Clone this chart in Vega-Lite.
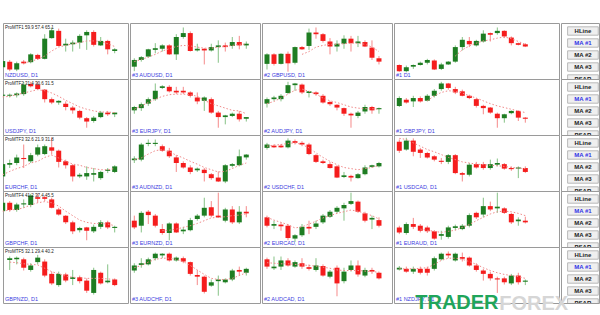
{
"$schema":"https://vega.github.io/schema/vega-lite/v6.json",
"padding":{"left":0,"top":22,"right":0,"bottom":0},
"background":"white",
"spacing":0,
"config":{"view":{"stroke":"#9a9a9a","strokeWidth":1},"font":"Liberation Sans","facet":{"spacing":0},"concat":{"spacing":0},"header":{"labelPadding":0,"titlePadding":0}},
"title":{"text":"TRADER","orient":"bottom","anchor":"start","dx":415,"offset":-21,"fontSize":20,"fontWeight":"bold","color":"#1fa55a","font":"Liberation Sans"},
"datasets":{
"d":[
{"c":1,"r":1,"t":"NZDUSD, D1","u":"ProMTF1 59.9 57.4 65.1"},
{"c":1,"r":2,"t":"USDJPY, D1","u":"ProMTF2 31.4 30.6 31.5"},
{"c":1,"r":3,"t":"EURCHF, D1","u":"ProMTF3 32.6 21.9 31.8"},
{"c":1,"r":4,"t":"GBPCHF, D1","u":"ProMTF4 41.2 37.4 45.5"},
{"c":1,"r":5,"t":"GBPNZD, D1","u":"ProMTF5 32.1 29.4 40.2"},
{"c":2,"r":1,"t":"#3 AUDUSD, D1"},{"c":2,"r":2,"t":"#3 EURJPY, D1"},{"c":2,"r":3,"t":"#3 AUDNZD, D1"},{"c":2,"r":4,"t":"#3 EURNZD, D1"},{"c":2,"r":5,"t":"#3 AUDCHF, D1"},
{"c":3,"r":1,"t":"#2 GBPUSD, D1"},{"c":3,"r":2,"t":"#2 AUDJPY, D1"},{"c":3,"r":3,"t":"#2 USDCHF, D1"},{"c":3,"r":4,"t":"#2 EURCAD, D1"},{"c":3,"r":5,"t":"#2 AUDCAD, D1"},
{"c":4,"r":1,"t":"#1 D1"},{"c":4,"r":2,"t":"#1 GBPJPY, D1"},{"c":4,"r":3,"t":"#1 USDCAD, D1"},{"c":4,"r":4,"t":"#1 EURAUD, D1"},{"c":4,"r":5,"t":"#1 NZDJPY, D1"},

{"c":1,"r":1,"i":0,"o":21,"h":34,"l":18,"z":32},
{"c":1,"r":1,"i":1,"o":31,"h":34,"l":14,"z":17},
{"c":1,"r":1,"i":2,"o":17,"h":31,"l":14,"z":28},
{"c":1,"r":1,"i":3,"o":31,"h":34,"l":26,"z":28,"m":28},
{"c":1,"r":1,"i":4,"o":30,"h":46,"l":28,"z":44,"m":32},
{"c":1,"r":1,"i":5,"o":43,"h":45,"l":34,"z":36,"m":35},
{"c":1,"r":1,"i":6,"o":36,"h":80,"l":35,"z":72,"m":41},
{"c":1,"r":1,"i":7,"o":73,"h":92,"l":72,"z":87,"m":50},
{"c":1,"r":1,"i":8,"o":86,"h":90,"l":58,"z":59,"m":57},
{"c":1,"r":1,"i":9,"o":60,"h":72,"l":49,"z":63,"m":60},
{"c":1,"r":1,"i":10,"o":62,"h":69,"l":49,"z":65,"m":63},
{"c":1,"r":1,"i":11,"o":65,"h":80,"l":54,"z":77,"m":65},
{"c":1,"r":1,"i":12,"o":78,"h":87,"l":52,"z":84,"m":68},
{"c":1,"r":1,"i":13,"o":84,"h":87,"l":58,"z":61,"m":68},
{"c":1,"r":1,"i":14,"o":60,"h":75,"l":59,"z":68,"m":67},
{"c":1,"r":1,"i":15,"o":68,"h":70,"l":44,"z":53,"m":63},
{"c":1,"r":1,"i":16,"o":50,"h":55,"l":46,"z":53,"m":58},

{"c":2,"r":1,"i":0,"o":22,"h":37,"l":14,"z":34,"m":31},
{"c":2,"r":1,"i":1,"o":34,"h":41,"l":31,"z":39,"m":35},
{"c":2,"r":1,"i":2,"o":40,"h":54,"l":38,"z":53,"m":39},
{"c":2,"r":1,"i":3,"o":52,"h":64,"l":46,"z":55,"m":44},
{"c":2,"r":1,"i":4,"o":54,"h":62,"l":49,"z":60,"m":50},
{"c":2,"r":1,"i":5,"o":60,"h":62,"l":43,"z":44,"m":54},
{"c":2,"r":1,"i":6,"o":44,"h":80,"l":34,"z":75,"m":58},
{"c":2,"r":1,"i":7,"o":75,"h":92,"l":72,"z":82,"m":60},
{"c":2,"r":1,"i":8,"o":82,"h":85,"l":49,"z":50,"m":59},
{"c":2,"r":1,"i":9,"o":51,"h":63,"l":49,"z":54,"m":57},
{"c":2,"r":1,"i":10,"o":54,"h":55,"l":26,"z":51,"m":55},
{"c":2,"r":1,"i":11,"o":51,"h":63,"l":49,"z":57,"m":55},
{"c":2,"r":1,"i":12,"o":57,"h":69,"l":29,"z":60,"m":57},
{"c":2,"r":1,"i":13,"o":60,"h":65,"l":49,"z":57,"m":58},
{"c":2,"r":1,"i":14,"o":59,"h":75,"l":54,"z":66,"m":60},
{"c":2,"r":1,"i":15,"o":66,"h":77,"l":53,"z":60,"m":62},
{"c":2,"r":1,"i":16,"o":60,"h":67,"l":54,"z":63,"m":62},

{"c":3,"r":1,"i":0,"o":27,"h":46,"l":17,"z":44},
{"c":3,"r":1,"i":1,"o":44,"h":46,"l":24,"z":27},
{"c":3,"r":1,"i":2,"o":27,"h":46,"l":26,"z":45},
{"c":3,"r":1,"i":3,"o":45,"h":49,"l":13,"z":28},
{"c":3,"r":1,"i":4,"o":29,"h":58,"l":26,"z":57},
{"c":3,"r":1,"i":5,"o":57,"h":59,"l":52,"z":53,"m":44},
{"c":3,"r":1,"i":6,"o":59,"h":90,"l":52,"z":83,"m":49},
{"c":3,"r":1,"i":7,"o":83,"h":92,"l":72,"z":80,"m":57},
{"c":3,"r":1,"i":8,"o":80,"h":82,"l":65,"z":68,"m":60},
{"c":3,"r":1,"i":9,"o":67,"h":73,"l":44,"z":58,"m":62},
{"c":3,"r":1,"i":10,"o":58,"h":69,"l":49,"z":63,"m":62},
{"c":3,"r":1,"i":11,"o":63,"h":78,"l":54,"z":72,"m":63},
{"c":3,"r":1,"i":12,"o":72,"h":77,"l":49,"z":64,"m":64},
{"c":3,"r":1,"i":13,"o":64,"h":77,"l":57,"z":67,"m":64},
{"c":3,"r":1,"i":14,"o":66,"h":69,"l":57,"z":58,"m":62},
{"c":3,"r":1,"i":15,"o":56,"h":69,"l":34,"z":38,"m":57},
{"c":3,"r":1,"i":16,"o":37,"h":41,"l":26,"z":31,"m":49},

{"c":4,"r":1,"i":0,"o":25,"h":26,"l":13,"z":14},
{"c":4,"r":1,"i":1,"o":14,"h":24,"l":12,"z":21},
{"c":4,"r":1,"i":2,"o":22,"h":26,"l":18,"z":25},
{"c":4,"r":1,"i":3,"o":25,"h":31,"l":24,"z":29},
{"c":4,"r":1,"i":4,"o":29,"h":36,"l":26,"z":34},
{"c":4,"r":1,"i":5,"o":33,"h":35,"l":16,"z":17},
{"c":4,"r":1,"i":6,"o":18,"h":29,"l":16,"z":26},
{"c":4,"r":1,"i":7,"o":26,"h":32,"l":25,"z":31},
{"c":4,"r":1,"i":8,"o":31,"h":60,"l":29,"z":57,"m":41},
{"c":4,"r":1,"i":9,"o":57,"h":75,"l":51,"z":70,"m":52},
{"c":4,"r":1,"i":10,"o":68,"h":75,"l":57,"z":62,"m":59},
{"c":4,"r":1,"i":11,"o":60,"h":70,"l":58,"z":68,"m":64},
{"c":4,"r":1,"i":12,"o":67,"h":87,"l":65,"z":81,"m":68},
{"c":4,"r":1,"i":13,"o":82,"h":83,"l":67,"z":79,"m":70},
{"c":4,"r":1,"i":14,"o":82,"h":92,"l":79,"z":86,"m":73},
{"c":4,"r":1,"i":15,"o":86,"h":87,"l":73,"z":76,"m":75},
{"c":4,"r":1,"i":16,"o":74,"h":76,"l":60,"z":64,"m":72},
{"c":4,"r":1,"i":17,"o":64,"h":65,"l":60,"z":61,"m":67},
{"c":4,"r":1,"i":18,"o":62,"h":64,"l":57,"z":58,"m":62},

{"c":1,"r":2,"i":0,"o":70,"h":74,"l":67,"z":72,"m":68},
{"c":1,"r":2,"i":1,"o":70,"h":74,"l":67,"z":72,"m":69},
{"c":1,"r":2,"i":2,"o":71,"h":76,"l":67,"z":74,"m":72},
{"c":1,"r":2,"i":3,"o":73,"h":95,"l":70,"z":90,"m":75},
{"c":1,"r":2,"i":4,"o":91,"h":95,"l":85,"z":87,"m":78},
{"c":1,"r":2,"i":5,"o":90,"h":95,"l":81,"z":82,"m":81},
{"c":1,"r":2,"i":6,"o":81,"h":82,"l":58,"z":64,"m":79},
{"c":1,"r":2,"i":7,"o":64,"h":67,"l":55,"z":58,"m":75},
{"c":1,"r":2,"i":8,"o":58,"h":62,"l":54,"z":61,"m":69},
{"c":1,"r":2,"i":9,"o":56,"h":60,"l":44,"z":50,"m":62},
{"c":1,"r":2,"i":10,"o":49,"h":52,"l":38,"z":44,"m":56},
{"c":1,"r":2,"i":11,"o":43,"h":45,"l":28,"z":31,"m":50},
{"c":1,"r":2,"i":12,"o":30,"h":32,"l":13,"z":24,"m":46},
{"c":1,"r":2,"i":13,"o":25,"h":34,"l":22,"z":31,"m":43},
{"c":1,"r":2,"i":14,"o":32,"h":43,"l":30,"z":40,"m":41},
{"c":1,"r":2,"i":15,"o":40,"h":43,"l":34,"z":37,"m":41},
{"c":1,"r":2,"i":16,"o":37,"h":40,"l":32,"z":40,"m":40},

{"c":2,"r":2,"i":0,"o":44,"h":52,"l":38,"z":50,"m":46},
{"c":2,"r":2,"i":1,"o":48,"h":58,"l":43,"z":55,"m":52},
{"c":2,"r":2,"i":2,"o":56,"h":67,"l":52,"z":64,"m":58},
{"c":2,"r":2,"i":3,"o":64,"h":92,"l":61,"z":79,"m":64},
{"c":2,"r":2,"i":4,"o":84,"h":89,"l":82,"z":87,"m":69},
{"c":2,"r":2,"i":5,"o":86,"h":89,"l":76,"z":78,"m":72},
{"c":2,"r":2,"i":6,"o":79,"h":86,"l":73,"z":76,"m":73},
{"c":2,"r":2,"i":7,"o":79,"h":86,"l":73,"z":76,"m":73},
{"c":2,"r":2,"i":8,"o":76,"h":78,"l":67,"z":70,"m":72},
{"c":2,"r":2,"i":9,"o":67,"h":76,"l":55,"z":60,"m":69},
{"c":2,"r":2,"i":10,"o":61,"h":69,"l":43,"z":67,"m":62},
{"c":2,"r":2,"i":11,"o":64,"h":67,"l":38,"z":40,"m":56},
{"c":2,"r":2,"i":12,"o":40,"h":43,"l":13,"z":32,"m":52},
{"c":2,"r":2,"i":13,"o":32,"h":36,"l":19,"z":35,"m":48},
{"c":2,"r":2,"i":14,"o":34,"h":40,"l":32,"z":38,"m":44},
{"c":2,"r":2,"i":15,"o":38,"h":43,"l":24,"z":28,"m":43},
{"c":2,"r":2,"i":16,"o":29,"h":32,"l":24,"z":32,"m":38},

{"c":3,"r":2,"i":0,"o":56,"h":67,"l":49,"z":64,"m":56},
{"c":3,"r":2,"i":1,"o":64,"h":70,"l":61,"z":67,"m":60},
{"c":3,"r":2,"i":2,"o":64,"h":73,"l":60,"z":70,"m":66},
{"c":3,"r":2,"i":3,"o":75,"h":95,"l":73,"z":89,"m":73},
{"c":3,"r":2,"i":4,"o":89,"h":93,"l":79,"z":92,"m":80},
{"c":3,"r":2,"i":5,"o":90,"h":92,"l":73,"z":76,"m":82},
{"c":3,"r":2,"i":6,"o":75,"h":79,"l":67,"z":78,"m":78},
{"c":3,"r":2,"i":7,"o":76,"h":78,"l":70,"z":73,"m":73},
{"c":3,"r":2,"i":8,"o":70,"h":73,"l":56,"z":58,"m":66},
{"c":3,"r":2,"i":9,"o":59,"h":61,"l":52,"z":55,"m":61},
{"c":3,"r":2,"i":10,"o":54,"h":55,"l":44,"z":49,"m":58},
{"c":3,"r":2,"i":11,"o":48,"h":49,"l":34,"z":38,"m":54},
{"c":3,"r":2,"i":12,"o":38,"h":40,"l":13,"z":35,"m":50},
{"c":3,"r":2,"i":13,"o":34,"h":43,"l":30,"z":40,"m":48},
{"c":3,"r":2,"i":14,"o":42,"h":54,"l":38,"z":50,"m":47},
{"c":3,"r":2,"i":15,"o":50,"h":52,"l":38,"z":44,"m":47},
{"c":3,"r":2,"i":16,"o":46,"h":49,"l":38,"z":48,"m":46},

{"c":4,"r":2,"i":0,"o":52,"h":69,"l":50,"z":66},
{"c":4,"r":2,"i":1,"o":63,"h":66,"l":56,"z":58},
{"c":4,"r":2,"i":2,"o":60,"h":70,"l":50,"z":66},
{"c":4,"r":2,"i":3,"o":66,"h":69,"l":58,"z":60},
{"c":4,"r":2,"i":4,"o":61,"h":73,"l":60,"z":70,"m":61},
{"c":4,"r":2,"i":5,"o":70,"h":82,"l":67,"z":79,"m":70},
{"c":4,"r":2,"i":6,"o":82,"h":95,"l":79,"z":92,"m":76},
{"c":4,"r":2,"i":7,"o":92,"h":93,"l":81,"z":84,"m":79},
{"c":4,"r":2,"i":8,"o":82,"h":86,"l":73,"z":76,"m":78},
{"c":4,"r":2,"i":9,"o":78,"h":81,"l":69,"z":70,"m":75},
{"c":4,"r":2,"i":10,"o":70,"h":72,"l":64,"z":66,"m":70},
{"c":4,"r":2,"i":11,"o":64,"h":66,"l":49,"z":52,"m":66},
{"c":4,"r":2,"i":12,"o":52,"h":54,"l":37,"z":48,"m":61},
{"c":4,"r":2,"i":13,"o":49,"h":50,"l":38,"z":40,"m":56},
{"c":4,"r":2,"i":14,"o":38,"h":40,"l":13,"z":30,"m":52},
{"c":4,"r":2,"i":15,"o":30,"h":38,"l":22,"z":37,"m":49},
{"c":4,"r":2,"i":16,"o":39,"h":44,"l":37,"z":43,"m":46},
{"c":4,"r":2,"i":17,"o":43,"h":44,"l":25,"z":31,"m":43},
{"c":4,"r":2,"i":18,"o":31,"h":32,"l":22,"z":29,"m":40},

{"c":1,"r":3,"i":0,"o":26,"h":53,"l":23,"z":48,"m":29},
{"c":1,"r":3,"i":1,"o":47,"h":56,"l":41,"z":50,"m":35},
{"c":1,"r":3,"i":2,"o":50,"h":65,"l":46,"z":60,"m":40},
{"c":1,"r":3,"i":3,"o":59,"h":83,"l":41,"z":57,"m":44},
{"c":1,"r":3,"i":4,"o":53,"h":68,"l":50,"z":64,"m":50},
{"c":1,"r":3,"i":5,"o":65,"h":83,"l":62,"z":78,"m":53},
{"c":1,"r":3,"i":6,"o":66,"h":83,"l":64,"z":80,"m":60},
{"c":1,"r":3,"i":7,"o":78,"h":95,"l":65,"z":72,"m":64},
{"c":1,"r":3,"i":8,"o":72,"h":74,"l":42,"z":52,"m":59},
{"c":1,"r":3,"i":9,"o":53,"h":56,"l":40,"z":46,"m":53},
{"c":1,"r":3,"i":10,"o":46,"h":48,"l":17,"z":26,"m":48},
{"c":1,"r":3,"i":11,"o":26,"h":32,"l":23,"z":29,"m":46},
{"c":1,"r":3,"i":12,"o":26,"h":44,"l":20,"z":32,"m":42},
{"c":1,"r":3,"i":13,"o":29,"h":41,"l":17,"z":32,"m":40},
{"c":1,"r":3,"i":14,"o":23,"h":36,"l":20,"z":34,"m":38},
{"c":1,"r":3,"i":15,"o":36,"h":41,"l":32,"z":38,"m":38},
{"c":1,"r":3,"i":16,"o":34,"h":46,"l":32,"z":44,"m":40},

{"c":2,"r":3,"i":0,"o":55,"h":62,"l":50,"z":58,"m":56},
{"c":2,"r":3,"i":1,"o":56,"h":86,"l":53,"z":83,"m":59},
{"c":2,"r":3,"i":2,"o":84,"h":92,"l":80,"z":86,"m":66},
{"c":2,"r":3,"i":3,"o":84,"h":92,"l":80,"z":86,"m":72},
{"c":2,"r":3,"i":4,"o":80,"h":83,"l":70,"z":72,"m":74},
{"c":2,"r":3,"i":5,"o":72,"h":77,"l":59,"z":62,"m":70},
{"c":2,"r":3,"i":6,"o":60,"h":64,"l":34,"z":50,"m":64},
{"c":2,"r":3,"i":7,"o":50,"h":53,"l":40,"z":42,"m":59},
{"c":2,"r":3,"i":8,"o":42,"h":46,"l":30,"z":34,"m":53},
{"c":2,"r":3,"i":9,"o":37,"h":42,"l":34,"z":40,"m":48},
{"c":2,"r":3,"i":10,"o":38,"h":41,"l":17,"z":32,"m":42},
{"c":2,"r":3,"i":11,"o":30,"h":32,"l":20,"z":23,"m":38},
{"c":2,"r":3,"i":12,"o":24,"h":35,"l":16,"z":17,"m":34},
{"c":2,"r":3,"i":13,"o":17,"h":48,"l":14,"z":46,"m":35},
{"c":2,"r":3,"i":14,"o":45,"h":50,"l":42,"z":48,"m":40},
{"c":2,"r":3,"i":15,"o":46,"h":74,"l":44,"z":62,"m":46},
{"c":2,"r":3,"i":16,"o":60,"h":66,"l":56,"z":65,"m":50},

{"c":3,"r":3,"i":0,"o":77,"h":86,"l":74,"z":83,"m":80},
{"c":3,"r":3,"i":1,"o":81,"h":83,"l":77,"z":78,"m":82},
{"c":3,"r":3,"i":2,"o":81,"h":84,"l":77,"z":78,"m":83},
{"c":3,"r":3,"i":3,"o":78,"h":94,"l":76,"z":90,"m":85},
{"c":3,"r":3,"i":4,"o":89,"h":92,"l":83,"z":86,"m":86},
{"c":3,"r":3,"i":5,"o":86,"h":89,"l":80,"z":83,"m":83},
{"c":3,"r":3,"i":6,"o":83,"h":86,"l":64,"z":66,"m":77},
{"c":3,"r":3,"i":7,"o":64,"h":66,"l":50,"z":52,"m":68},
{"c":3,"r":3,"i":8,"o":53,"h":56,"l":48,"z":50,"m":60},
{"c":3,"r":3,"i":9,"o":48,"h":52,"l":40,"z":41,"m":53},
{"c":3,"r":3,"i":10,"o":44,"h":46,"l":23,"z":24,"m":47},
{"c":3,"r":3,"i":11,"o":25,"h":34,"l":23,"z":28,"m":42},
{"c":3,"r":3,"i":12,"o":27,"h":29,"l":17,"z":24,"m":40},
{"c":3,"r":3,"i":13,"o":23,"h":32,"l":22,"z":30,"m":38},
{"c":3,"r":3,"i":14,"o":30,"h":46,"l":28,"z":42,"m":40},
{"c":3,"r":3,"i":15,"o":43,"h":47,"l":41,"z":46,"m":42},
{"c":3,"r":3,"i":16,"o":44,"h":52,"l":42,"z":50,"m":46},

{"c":4,"r":3,"i":0,"o":88,"h":92,"l":68,"z":72,"m":94},
{"c":4,"r":3,"i":1,"o":74,"h":95,"l":72,"z":90,"m":92},
{"c":4,"r":3,"i":2,"o":90,"h":94,"l":62,"z":70,"m":86},
{"c":4,"r":3,"i":3,"o":74,"h":77,"l":59,"z":68,"m":80},
{"c":4,"r":3,"i":4,"o":68,"h":70,"l":58,"z":60,"m":74},
{"c":4,"r":3,"i":5,"o":62,"h":64,"l":53,"z":56,"m":70},
{"c":4,"r":3,"i":6,"o":54,"h":59,"l":48,"z":52,"m":65},
{"c":4,"r":3,"i":7,"o":52,"h":66,"l":48,"z":64,"m":60},
{"c":4,"r":3,"i":8,"o":64,"h":66,"l":30,"z":32,"m":56},
{"c":4,"r":3,"i":9,"o":32,"h":34,"l":17,"z":29,"m":52},
{"c":4,"r":3,"i":10,"o":29,"h":50,"l":26,"z":47,"m":50},
{"c":4,"r":3,"i":11,"o":48,"h":52,"l":40,"z":42,"m":48},
{"c":4,"r":3,"i":12,"o":48,"h":52,"l":38,"z":41,"m":47},
{"c":4,"r":3,"i":13,"o":41,"h":56,"l":38,"z":48,"m":46},
{"c":4,"r":3,"i":14,"o":47,"h":58,"l":44,"z":50,"m":45},
{"c":4,"r":3,"i":15,"o":48,"h":50,"l":38,"z":40,"m":44},
{"c":4,"r":3,"i":16,"o":41,"h":44,"l":36,"z":39,"m":42},
{"c":4,"r":3,"i":17,"o":40,"h":44,"l":23,"z":42,"m":41},
{"c":4,"r":3,"i":18,"o":41,"h":44,"l":32,"z":34,"m":40},

{"c":1,"r":4,"i":0,"o":64,"h":82,"l":61,"z":79,"m":64},
{"c":1,"r":4,"i":1,"o":79,"h":82,"l":63,"z":66,"m":66},
{"c":1,"r":4,"i":2,"o":66,"h":79,"l":63,"z":76,"m":67},
{"c":1,"r":4,"i":3,"o":76,"h":85,"l":70,"z":78,"m":70},
{"c":1,"r":4,"i":4,"o":75,"h":95,"l":71,"z":92,"m":75},
{"c":1,"r":4,"i":5,"o":89,"h":95,"l":79,"z":86,"m":79},
{"c":1,"r":4,"i":6,"o":89,"h":92,"l":82,"z":86,"m":81},
{"c":1,"r":4,"i":7,"o":85,"h":88,"l":69,"z":70,"m":79},
{"c":1,"r":4,"i":8,"o":67,"h":70,"l":56,"z":58,"m":73},
{"c":1,"r":4,"i":9,"o":56,"h":57,"l":41,"z":44,"m":64},
{"c":1,"r":4,"i":10,"o":44,"h":47,"l":23,"z":28,"m":56},
{"c":1,"r":4,"i":11,"o":30,"h":36,"l":26,"z":34,"m":48},
{"c":1,"r":4,"i":12,"o":35,"h":36,"l":12,"z":29,"m":44},
{"c":1,"r":4,"i":13,"o":28,"h":40,"l":25,"z":36,"m":42},
{"c":1,"r":4,"i":14,"o":36,"h":48,"l":32,"z":44,"m":42},
{"c":1,"r":4,"i":15,"o":44,"h":47,"l":32,"z":35,"m":41},
{"c":1,"r":4,"i":16,"o":34,"h":38,"l":26,"z":36,"m":38},

{"c":2,"r":4,"i":0,"o":47,"h":56,"l":32,"z":35},
{"c":2,"r":4,"i":1,"o":38,"h":64,"l":26,"z":61},
{"c":2,"r":4,"i":2,"o":63,"h":66,"l":41,"z":57},
{"c":2,"r":4,"i":3,"o":56,"h":59,"l":35,"z":38},
{"c":2,"r":4,"i":4,"o":32,"h":41,"l":22,"z":25,"m":29},
{"c":2,"r":4,"i":5,"o":25,"h":44,"l":12,"z":42,"m":30},
{"c":2,"r":4,"i":6,"o":42,"h":44,"l":25,"z":26,"m":32},
{"c":2,"r":4,"i":7,"o":28,"h":36,"l":23,"z":31,"m":35},
{"c":2,"r":4,"i":8,"o":30,"h":52,"l":28,"z":48,"m":38},
{"c":2,"r":4,"i":9,"o":50,"h":59,"l":47,"z":56,"m":42},
{"c":2,"r":4,"i":10,"o":56,"h":88,"l":53,"z":70,"m":47},
{"c":2,"r":4,"i":11,"o":71,"h":82,"l":53,"z":56,"m":52},
{"c":2,"r":4,"i":12,"o":56,"h":97,"l":52,"z":53,"m":53},
{"c":2,"r":4,"i":13,"o":47,"h":70,"l":44,"z":67,"m":54},
{"c":2,"r":4,"i":14,"o":67,"h":73,"l":41,"z":44,"m":56},
{"c":2,"r":4,"i":15,"o":44,"h":73,"l":41,"z":63,"m":57},
{"c":2,"r":4,"i":16,"o":63,"h":73,"l":53,"z":60,"m":59},

{"c":3,"r":4,"i":0,"o":53,"h":56,"l":35,"z":38,"m":53},
{"c":3,"r":4,"i":1,"o":38,"h":47,"l":32,"z":41,"m":48},
{"c":3,"r":4,"i":2,"o":40,"h":44,"l":29,"z":37,"m":44},
{"c":3,"r":4,"i":3,"o":38,"h":41,"l":12,"z":16,"m":40},
{"c":3,"r":4,"i":4,"o":15,"h":23,"l":9,"z":21,"m":34},
{"c":3,"r":4,"i":5,"o":21,"h":41,"l":18,"z":36,"m":36},
{"c":3,"r":4,"i":6,"o":36,"h":47,"l":23,"z":33,"m":41},
{"c":3,"r":4,"i":7,"o":36,"h":47,"l":32,"z":42,"m":46},
{"c":3,"r":4,"i":8,"o":44,"h":59,"l":41,"z":56,"m":52},
{"c":3,"r":4,"i":9,"o":54,"h":66,"l":52,"z":63,"m":56},
{"c":3,"r":4,"i":10,"o":63,"h":73,"l":60,"z":70,"m":60},
{"c":3,"r":4,"i":11,"o":69,"h":79,"l":47,"z":75,"m":63},
{"c":3,"r":4,"i":12,"o":77,"h":97,"l":75,"z":82,"m":66},
{"c":3,"r":4,"i":13,"o":81,"h":83,"l":61,"z":63,"m":64},
{"c":3,"r":4,"i":14,"o":60,"h":63,"l":44,"z":47,"m":60},
{"c":3,"r":4,"i":15,"o":49,"h":56,"l":32,"z":52,"m":56},
{"c":3,"r":4,"i":16,"o":48,"h":53,"l":35,"z":38,"m":50},

{"c":4,"r":4,"i":0,"o":35,"h":38,"l":23,"z":26},
{"c":4,"r":4,"i":1,"o":25,"h":44,"l":22,"z":41},
{"c":4,"r":4,"i":2,"o":41,"h":52,"l":32,"z":36},
{"c":4,"r":4,"i":3,"o":38,"h":41,"l":26,"z":29,"m":32},
{"c":4,"r":4,"i":4,"o":35,"h":38,"l":25,"z":28,"m":30},
{"c":4,"r":4,"i":5,"o":28,"h":30,"l":13,"z":15,"m":28},
{"c":4,"r":4,"i":6,"o":20,"h":29,"l":13,"z":23,"m":26},
{"c":4,"r":4,"i":7,"o":18,"h":38,"l":15,"z":35,"m":28},
{"c":4,"r":4,"i":8,"o":34,"h":40,"l":30,"z":37,"m":30},
{"c":4,"r":4,"i":9,"o":32,"h":41,"l":30,"z":38,"m":35},
{"c":4,"r":4,"i":10,"o":38,"h":60,"l":35,"z":57,"m":40},
{"c":4,"r":4,"i":11,"o":61,"h":63,"l":50,"z":53,"m":47},
{"c":4,"r":4,"i":12,"o":58,"h":88,"l":53,"z":73,"m":53},
{"c":4,"r":4,"i":13,"o":73,"h":81,"l":64,"z":67,"m":59},
{"c":4,"r":4,"i":14,"o":69,"h":97,"l":61,"z":72,"m":63},
{"c":4,"r":4,"i":15,"o":69,"h":71,"l":59,"z":61,"m":64},
{"c":4,"r":4,"i":16,"o":59,"h":61,"l":41,"z":44,"m":63},
{"c":4,"r":4,"i":17,"o":46,"h":53,"l":38,"z":49,"m":60},
{"c":4,"r":4,"i":18,"o":47,"h":54,"l":42,"z":44,"m":56},

{"c":1,"r":5,"i":1,"o":77,"h":83,"l":59,"z":80,"m":73},
{"c":1,"r":5,"i":2,"o":78,"h":83,"l":69,"z":81,"m":72},
{"c":1,"r":5,"i":3,"o":78,"h":81,"l":58,"z":63,"m":70},
{"c":1,"r":5,"i":4,"o":59,"h":71,"l":56,"z":67,"m":69},
{"c":1,"r":5,"i":5,"o":73,"h":86,"l":69,"z":81,"m":68},
{"c":1,"r":5,"i":6,"o":74,"h":78,"l":46,"z":49,"m":62},
{"c":1,"r":5,"i":7,"o":52,"h":56,"l":32,"z":35,"m":56},
{"c":1,"r":5,"i":8,"o":32,"h":56,"l":29,"z":52,"m":52},
{"c":1,"r":5,"i":9,"o":51,"h":54,"l":37,"z":40,"m":48},
{"c":1,"r":5,"i":10,"o":43,"h":59,"l":32,"z":46,"m":46},
{"c":1,"r":5,"i":11,"o":46,"h":49,"l":35,"z":39,"m":45},
{"c":1,"r":5,"i":12,"o":40,"h":44,"l":18,"z":22,"m":44},
{"c":1,"r":5,"i":13,"o":18,"h":63,"l":15,"z":59,"m":44},
{"c":1,"r":5,"i":14,"o":54,"h":56,"l":33,"z":35,"m":44},
{"c":1,"r":5,"i":15,"o":37,"h":69,"l":35,"z":40,"m":43},
{"c":1,"r":5,"i":16,"o":42,"h":44,"l":30,"z":32,"m":42},

{"c":2,"r":5,"i":0,"o":58,"h":71,"l":54,"z":67,"m":63},
{"c":2,"r":5,"i":1,"o":68,"h":80,"l":63,"z":71,"m":67},
{"c":2,"r":5,"i":2,"o":69,"h":81,"l":67,"z":78,"m":73},
{"c":2,"r":5,"i":3,"o":80,"h":90,"l":76,"z":88,"m":78},
{"c":2,"r":5,"i":4,"o":85,"h":89,"l":80,"z":88,"m":80},
{"c":2,"r":5,"i":5,"o":88,"h":90,"l":74,"z":76,"m":80},
{"c":2,"r":5,"i":6,"o":76,"h":83,"l":74,"z":81,"m":78},
{"c":2,"r":5,"i":7,"o":80,"h":83,"l":71,"z":74,"m":74},
{"c":2,"r":5,"i":8,"o":73,"h":74,"l":49,"z":52,"m":67},
{"c":2,"r":5,"i":9,"o":50,"h":59,"l":32,"z":47,"m":59},
{"c":2,"r":5,"i":10,"o":47,"h":49,"l":17,"z":20,"m":51},
{"c":2,"r":5,"i":11,"o":31,"h":42,"l":29,"z":37,"m":44},
{"c":2,"r":5,"i":12,"o":39,"h":49,"l":13,"z":42,"m":42},
{"c":2,"r":5,"i":13,"o":37,"h":44,"l":35,"z":42,"m":42},
{"c":2,"r":5,"i":14,"o":42,"h":61,"l":39,"z":58,"m":44},
{"c":2,"r":5,"i":15,"o":59,"h":65,"l":49,"z":56,"m":49},
{"c":2,"r":5,"i":16,"o":54,"h":63,"l":49,"z":61,"m":54},

{"c":3,"r":5,"i":0,"o":78,"h":81,"l":61,"z":65,"m":72},
{"c":3,"r":5,"i":1,"o":62,"h":83,"l":59,"z":65,"m":71},
{"c":3,"r":5,"i":2,"o":65,"h":83,"l":59,"z":76,"m":70},
{"c":3,"r":5,"i":3,"o":76,"h":80,"l":65,"z":67,"m":70},
{"c":3,"r":5,"i":4,"o":65,"h":76,"l":63,"z":73,"m":69},
{"c":3,"r":5,"i":5,"o":71,"h":80,"l":61,"z":65,"m":68},
{"c":3,"r":5,"i":6,"o":64,"h":69,"l":58,"z":61,"m":67},
{"c":3,"r":5,"i":7,"o":59,"h":80,"l":56,"z":67,"m":66},
{"c":3,"r":5,"i":8,"o":66,"h":69,"l":47,"z":49,"m":64},
{"c":3,"r":5,"i":9,"o":47,"h":59,"l":44,"z":56,"m":62},
{"c":3,"r":5,"i":10,"o":63,"h":67,"l":12,"z":35,"m":59},
{"c":3,"r":5,"i":11,"o":39,"h":63,"l":35,"z":56,"m":58},
{"c":3,"r":5,"i":12,"o":59,"h":76,"l":56,"z":67,"m":58},
{"c":3,"r":5,"i":13,"o":67,"h":76,"l":47,"z":51,"m":58},
{"c":3,"r":5,"i":14,"o":49,"h":63,"l":46,"z":59,"m":57},
{"c":3,"r":5,"i":15,"o":59,"h":63,"l":52,"z":56,"m":56},
{"c":3,"r":5,"i":16,"o":54,"h":56,"l":42,"z":44,"m":55},

{"c":4,"r":5,"i":0,"o":60,"h":66,"l":58,"z":63,"m":61},
{"c":4,"r":5,"i":1,"o":61,"h":65,"l":54,"z":56,"m":61},
{"c":4,"r":5,"i":2,"o":56,"h":65,"l":52,"z":61,"m":61},
{"c":4,"r":5,"i":3,"o":61,"h":65,"l":51,"z":54,"m":62},
{"c":4,"r":5,"i":4,"o":61,"h":65,"l":49,"z":54,"m":63},
{"c":4,"r":5,"i":5,"o":61,"h":83,"l":58,"z":80,"m":69},
{"c":4,"r":5,"i":6,"o":78,"h":90,"l":76,"z":88,"m":76},
{"c":4,"r":5,"i":7,"o":88,"h":92,"l":80,"z":85,"m":80},
{"c":4,"r":5,"i":8,"o":76,"h":90,"l":74,"z":88,"m":80},
{"c":4,"r":5,"i":9,"o":82,"h":90,"l":74,"z":79,"m":78},
{"c":4,"r":5,"i":10,"o":81,"h":83,"l":65,"z":67,"m":74},
{"c":4,"r":5,"i":11,"o":67,"h":71,"l":56,"z":59,"m":69},
{"c":4,"r":5,"i":12,"o":58,"h":61,"l":40,"z":52,"m":63},
{"c":4,"r":5,"i":13,"o":52,"h":56,"l":40,"z":44,"m":58},
{"c":4,"r":5,"i":14,"o":44,"h":47,"l":18,"z":42,"m":54},
{"c":4,"r":5,"i":15,"o":44,"h":47,"l":33,"z":37,"m":51},
{"c":4,"r":5,"i":16,"o":35,"h":52,"l":32,"z":49,"m":49},
{"c":4,"r":5,"i":17,"o":49,"h":54,"l":33,"z":37,"m":47},
{"c":4,"r":5,"i":18,"o":38,"h":42,"l":32,"z":40,"m":44}
],
"b":[
{"r":1,"b":"HLine"},{"r":1,"b":"MA #1"},{"r":1,"b":"MA #2"},{"r":1,"b":"MA #3"},{"r":1,"b":"PSAR"},
{"r":2,"b":"HLine"},{"r":2,"b":"MA #1"},{"r":2,"b":"MA #2"},{"r":2,"b":"MA #3"},{"r":2,"b":"PSAR"},
{"r":3,"b":"HLine"},{"r":3,"b":"MA #1"},{"r":3,"b":"MA #2"},{"r":3,"b":"MA #3"},{"r":3,"b":"PSAR"},
{"r":4,"b":"HLine"},{"r":4,"b":"MA #1"},{"r":4,"b":"MA #2"},{"r":4,"b":"MA #3"},{"r":4,"b":"PSAR"},
{"r":5,"b":"HLine"},{"r":5,"b":"MA #1"},{"r":5,"b":"MA #2"},{"r":5,"b":"MA #3"},{"r":5,"b":"PSAR"}
]
},
"vconcat":[{
"title":{"text":"FOREX","orient":"bottom","anchor":"start","dx":499,"offset":-10,"fontSize":20,"fontWeight":"bold","color":"#d6d6d6","font":"Liberation Sans"},
"spacing":0,
"hconcat":[
{"data":{"name":"d"},"transform":[{"filter":"datum.c == 1"}],"bounds":"flush",
 "facet":{"row":{"field":"r","type":"ordinal","header":null}},"spacing":0,
 "spec":{"width":125,"height":56,"layer":[
  {"transform":[{"filter":"isValid(datum.o)"}],"mark":{"type":"rule","strokeWidth":1,"clip":true},"encoding":{"x":{"field":"i","type":"quantitative","scale":{"domain":[0.04,17.9],"nice":false,"zero":false,"padding":0},"axis":null},"y":{"field":"l","type":"quantitative","scale":{"domain":[0,100],"nice":false,"padding":0},"axis":null},"y2":{"field":"h"},"color":{"condition":{"test":"datum.z >= datum.o","value":"#86c286"},"value":"#f58a8a"}}},
  {"transform":[{"filter":"isValid(datum.o)"}],"mark":{"type":"bar","size":5,"clip":true},"encoding":{"x":{"field":"i","type":"quantitative"},"y":{"field":"o","type":"quantitative"},"y2":{"field":"z"},"color":{"condition":{"test":"datum.z >= datum.o","value":"#1e7d22"},"value":"#f51d1d"}}},
  {"transform":[{"filter":"isValid(datum.m)"}],"mark":{"type":"line","strokeDash":[1.5,2],"strokeWidth":1,"color":"#f08a8a"},"encoding":{"x":{"field":"i","type":"quantitative"},"y":{"field":"m","type":"quantitative"}}},
  {"transform":[{"filter":"isValid(datum.t)"}],"mark":{"type":"text","align":"left","baseline":"bottom","dx":2,"dy":-1,"fontSize":5.5,"color":"#3d3de0"},"encoding":{"x":{"datum":0.04,"type":"quantitative"},"y":{"datum":0,"type":"quantitative"},"text":{"field":"t"}}},
  {"transform":[{"filter":"isValid(datum.u)"}],"mark":{"type":"text","align":"left","baseline":"top","dx":2,"dy":2,"fontSize":4.5,"color":"#222222"},"encoding":{"x":{"datum":0.04,"type":"quantitative"},"y":{"datum":100,"type":"quantitative"},"text":{"field":"u"}}}
 ]}},
{"data":{"name":"d"},"transform":[{"filter":"datum.c == 2"}],"bounds":"flush",
 "facet":{"row":{"field":"r","type":"ordinal","header":null}},"spacing":0,
 "spec":{"width":130,"height":56,"layer":[
  {"transform":[{"filter":"isValid(datum.o)"}],"mark":{"type":"rule","strokeWidth":1},"encoding":{"x":{"field":"i","type":"quantitative","scale":{"domain":[-0.614,17.96],"nice":false,"zero":false,"padding":0},"axis":null},"y":{"field":"l","type":"quantitative","scale":{"domain":[0,100],"nice":false,"padding":0},"axis":null},"y2":{"field":"h"},"color":{"condition":{"test":"datum.z >= datum.o","value":"#86c286"},"value":"#f58a8a"}}},
  {"transform":[{"filter":"isValid(datum.o)"}],"mark":{"type":"bar","size":5},"encoding":{"x":{"field":"i","type":"quantitative"},"y":{"field":"o","type":"quantitative"},"y2":{"field":"z"},"color":{"condition":{"test":"datum.z >= datum.o","value":"#1e7d22"},"value":"#f51d1d"}}},
  {"transform":[{"filter":"isValid(datum.m)"}],"mark":{"type":"line","strokeDash":[1.5,2],"strokeWidth":1,"color":"#f08a8a"},"encoding":{"x":{"field":"i","type":"quantitative"},"y":{"field":"m","type":"quantitative"}}},
  {"transform":[{"filter":"isValid(datum.t)"}],"mark":{"type":"text","align":"left","baseline":"bottom","dx":2,"dy":-1,"fontSize":5.5,"color":"#3d3de0"},"encoding":{"x":{"datum":-0.614,"type":"quantitative"},"y":{"datum":0,"type":"quantitative"},"text":{"field":"t"}}}
 ]}},
{"data":{"name":"d"},"transform":[{"filter":"datum.c == 3"}],"bounds":"flush",
 "facet":{"row":{"field":"r","type":"ordinal","header":null}},"spacing":0,
 "spec":{"width":130,"height":56,"layer":[
  {"transform":[{"filter":"isValid(datum.o)"}],"mark":{"type":"rule","strokeWidth":1},"encoding":{"x":{"field":"i","type":"quantitative","scale":{"domain":[-0.714,17.86],"nice":false,"zero":false,"padding":0},"axis":null},"y":{"field":"l","type":"quantitative","scale":{"domain":[0,100],"nice":false,"padding":0},"axis":null},"y2":{"field":"h"},"color":{"condition":{"test":"datum.z >= datum.o","value":"#86c286"},"value":"#f58a8a"}}},
  {"transform":[{"filter":"isValid(datum.o)"}],"mark":{"type":"bar","size":5},"encoding":{"x":{"field":"i","type":"quantitative"},"y":{"field":"o","type":"quantitative"},"y2":{"field":"z"},"color":{"condition":{"test":"datum.z >= datum.o","value":"#1e7d22"},"value":"#f51d1d"}}},
  {"transform":[{"filter":"isValid(datum.m)"}],"mark":{"type":"line","strokeDash":[1.5,2],"strokeWidth":1,"color":"#f08a8a"},"encoding":{"x":{"field":"i","type":"quantitative"},"y":{"field":"m","type":"quantitative"}}},
  {"transform":[{"filter":"isValid(datum.t)"}],"mark":{"type":"text","align":"left","baseline":"bottom","dx":2,"dy":-1,"fontSize":5.5,"color":"#3d3de0"},"encoding":{"x":{"datum":-0.714,"type":"quantitative"},"y":{"datum":0,"type":"quantitative"},"text":{"field":"t"}}}
 ]}},
{"data":{"name":"d"},"transform":[{"filter":"datum.c == 4"}],"bounds":"flush",
 "facet":{"row":{"field":"r","type":"ordinal","header":null}},"spacing":0,
 "spec":{"width":165,"height":56,"layer":[
  {"transform":[{"filter":"isValid(datum.o)"}],"mark":{"type":"rule","strokeWidth":1},"encoding":{"x":{"field":"i","type":"quantitative","scale":{"domain":[-0.757,22.81],"nice":false,"zero":false,"padding":0},"axis":null},"y":{"field":"l","type":"quantitative","scale":{"domain":[0,100],"nice":false,"padding":0},"axis":null},"y2":{"field":"h"},"color":{"condition":{"test":"datum.z >= datum.o","value":"#86c286"},"value":"#f58a8a"}}},
  {"transform":[{"filter":"isValid(datum.o)"}],"mark":{"type":"bar","size":5},"encoding":{"x":{"field":"i","type":"quantitative"},"y":{"field":"o","type":"quantitative"},"y2":{"field":"z"},"color":{"condition":{"test":"datum.z >= datum.o","value":"#1e7d22"},"value":"#f51d1d"}}},
  {"transform":[{"filter":"isValid(datum.m)"}],"mark":{"type":"line","strokeDash":[1.5,2],"strokeWidth":1,"color":"#f08a8a"},"encoding":{"x":{"field":"i","type":"quantitative"},"y":{"field":"m","type":"quantitative"}}},
  {"transform":[{"filter":"isValid(datum.t)"}],"mark":{"type":"text","align":"left","baseline":"bottom","dx":2,"dy":-1,"fontSize":5.5,"color":"#3d3de0"},"encoding":{"x":{"datum":-0.757,"type":"quantitative"},"y":{"datum":0,"type":"quantitative"},"text":{"field":"t"}}}
 ]}},
{"data":{"name":"b"},"bounds":"flush",
 "facet":{"row":{"field":"r","type":"ordinal","header":null}},"spacing":0,
 "spec":{"width":38,"height":56,"layer":[
  {"mark":{"type":"rect","fill":"#efefef","stroke":"#a8a8a8","strokeWidth":0.8,"clip":true},"encoding":{"x":{"datum":"btn","type":"nominal","scale":{"type":"band","paddingInner":0,"paddingOuter":0.12,"align":0.9},"axis":null},"y":{"field":"b","type":"nominal","sort":null,"scale":{"type":"band","range":[2,62],"paddingInner":0.3,"paddingOuter":0.15},"axis":null}}},
  {"mark":{"type":"text","fontSize":6,"fontWeight":"bold","clip":true},"encoding":{"x":{"datum":"btn","type":"nominal"},"y":{"field":"b","type":"nominal","sort":null},"text":{"field":"b"},"color":{"condition":{"test":"datum.b == 'MA #1'","value":"#3232e6"},"value":"#1a1a1a"}}}
 ]}}
]
}]
}
